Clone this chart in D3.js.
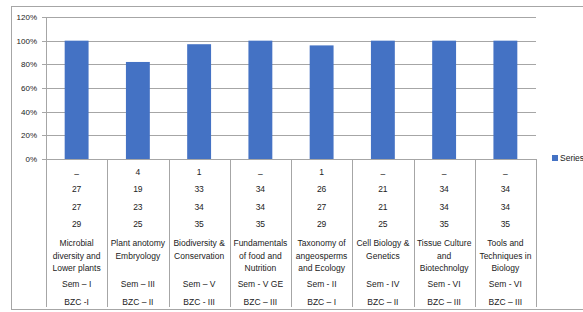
<!DOCTYPE html>
<html><head><meta charset="utf-8">
<script src="https://cdn.jsdelivr.net/npm/d3@7"></script>
<style>body{margin:0;background:#fff}svg{display:block}text{font-family:"Liberation Sans",Arial,sans-serif;fill:#222}</style>
</head><body><svg id="c" width="583" height="312"></svg>
<script>
const categories = ["c1","c2","c3","c4","c5","c6","c7","c8"];
const values = [100, 82, 97, 100, 96, 100, 100, 100];
const row1 = ["–","4","1","–","1","–","–","–"];
const row2 = ["27","19","33","34","26","21","34","34"];
const row3 = ["27","23","34","34","27","21","34","34"];
const row4 = ["29","25","35","35","29","25","35","35"];
const names = [["Microbial","diversity and","Lower plants"],["Plant anotomy","Embryology"],["Biodiversity &","Conservation"],["Fundamentals","of food and","Nutrition"],["Taxonomy of","angeosperms","and Ecology"],["Cell Biology &","Genetics"],["Tissue Culture","and","Biotechnolgy"],["Tools and","Techniques in","Biology"]];
const sems = ["Sem – I","Sem – III","Sem – V","Sem - V GE","Sem - II","Sem - IV","Sem - VI","Sem - VI"];
const bzc = ["BZC -I","BZC – II","BZC - III","BZC – III","BZC – I","BZC – II","BZC – III","BZC – III"];
const yTicks = [0,20,40,60,80,100,120];
const seriesName = "Series1";

const svg = d3.select("#c");
const L = 46, R = 536, T = 17, B = 159, tableBottom = 307;
const x = d3.scaleBand().domain(categories).range([L, R]).paddingInner(0.61).paddingOuter(0.305);
const xb = d3.scaleBand().domain(categories).range([L, R]);
const y = d3.scaleLinear().domain([0,120]).range([B, T]);

// outer border
svg.append("rect").attr("x",11.5).attr("y",6.5).attr("width",600).attr("height",303).attr("fill","none").attr("stroke","#a6a6a6");

// gridlines
svg.append("g").selectAll("line").data(yTicks).join("line")
  .attr("x1",L-4).attr("x2",R).attr("y1",d=>Math.round(y(d))+0.5).attr("y2",d=>Math.round(y(d))+0.5)
  .attr("stroke","#a6a6a6");
svg.append("g").selectAll("text").data(yTicks).join("text")
  .attr("x",37).attr("y",d=>y(d)+3).attr("text-anchor","end").attr("font-size",8).text(d=>d+"%");

// bars
svg.append("g").selectAll("rect").data(values).join("rect")
  .attr("x",(d,i)=>x(categories[i])).attr("width",x.bandwidth())
  .attr("y",d=>y(d)).attr("height",d=>B-y(d)).attr("fill","#4472c4");

// table vertical lines
svg.append("g").selectAll("line").data(categories.map(c=>xb(c)).concat([R])).join("line")
  .attr("x1",d=>Math.round(d)+0.5).attr("x2",d=>Math.round(d)+0.5).attr("y1",B).attr("y2",tableBottom)
  .attr("stroke","#a6a6a6");
svg.append("line").attr("x1",L+0.5).attr("x2",L+0.5).attr("y1",T).attr("y2",B).attr("stroke","#a6a6a6");

const cx = c => xb(c) + xb.bandwidth()/2;
const rows = [[row1,175],[row2,192],[row3,210],[row4,227]];
rows.forEach(([r,yy])=>{
  svg.append("g").selectAll("text").data(r).join("text")
    .attr("x",(d,i)=>cx(categories[i])).attr("y",(d,i)=> d==="–" ? yy+2 : yy)
    .attr("text-anchor","middle").attr("font-size",8.5).text(d=>d);
});
names.forEach((lines,i)=>{
  svg.append("g").selectAll("text").data(lines).join("text")
    .attr("x",cx(categories[i])).attr("y",(d,j)=>246+j*12.5)
    .attr("text-anchor","middle").attr("font-size",8.5).text(d=>d);
});
svg.append("g").selectAll("text").data(sems).join("text")
  .attr("x",(d,i)=>cx(categories[i])).attr("y",287).attr("text-anchor","middle").attr("font-size",8.5).text(d=>d);
svg.append("g").selectAll("text").data(bzc).join("text")
  .attr("x",(d,i)=>cx(categories[i])).attr("y",305).attr("text-anchor","middle").attr("font-size",8.5).text(d=>d);

// legend
svg.append("rect").attr("x",552).attr("y",155).attr("width",6).attr("height",6).attr("fill","#4472c4");
svg.append("text").attr("x",560).attr("y",161).attr("font-size",8.5).text(seriesName);
</script></body></html>
